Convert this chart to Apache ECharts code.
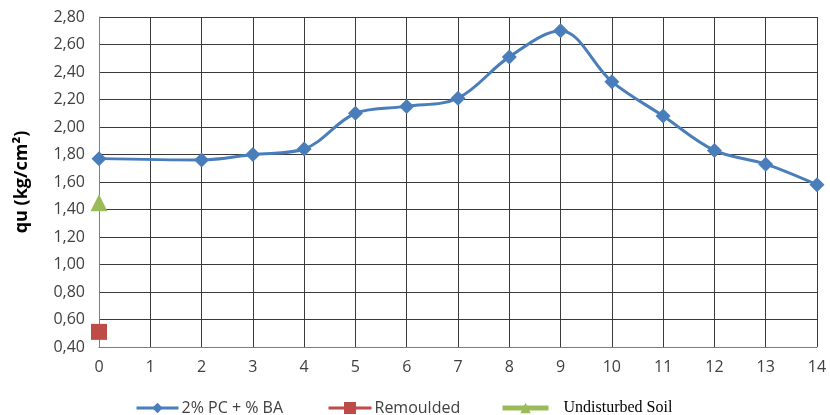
<!DOCTYPE html>
<html>
<head>
<meta charset="utf-8">
<script src="https://cdn.jsdelivr.net/npm/echarts@6/dist/echarts.min.js"></script>
<style>
  html, body { margin: 0; padding: 0; background: #fff; }
  #chart { width: 830px; height: 415px; }
</style>
</head>
<body>
<div id="chart"></div>
<script>
// Unconfined compressive strength vs. additive percentage
const xValues = [0, 2, 3, 4, 5, 6, 7, 8, 9, 10, 11, 12, 13, 14];
const quMixed = [1.77, 1.76, 1.80, 1.84, 2.10, 2.15, 2.21, 2.51, 2.70, 2.33, 2.08, 1.83, 1.73, 1.58];
const quRemoulded = [[0, 0.51]];
const quUndisturbed = [[0, 1.45]];
const seriesNames = ['2% PC + % BA', 'Remoulded', 'Undisturbed Soil'];

const chart = echarts.init(document.getElementById('chart'), null, { renderer: 'canvas' });
const sans = '"Open Sans", Lato, sans-serif';
const gridLine = { show: true, lineStyle: { color: '#3a3a3a', width: 1 } };

chart.setOption({
  backgroundColor: '#ffffff',
  animation: false,
  grid: { left: 99, right: 13, top: 17, bottom: 68 },
  xAxis: {
    type: 'value', min: 0, max: 14, interval: 1,
    axisLine: { show: true, lineStyle: { color: '#7f7f7f', width: 1 } },
    axisTick: { show: false },
    splitLine: gridLine,
    axisLabel: { color: '#404040', fontFamily: sans, fontSize: 16, margin: 12 }
  },
  yAxis: {
    type: 'value', min: 0.4, max: 2.8, interval: 0.2,
    name: 'qu (kg/cm²)', nameLocation: 'middle', nameGap: 68,
    nameTextStyle: { color: '#000', fontFamily: sans, fontSize: 18, fontWeight: 'bold' },
    axisLine: { show: true, lineStyle: { color: '#7f7f7f', width: 1 } },
    axisTick: { show: false },
    splitLine: gridLine,
    axisLabel: {
      color: '#404040', fontFamily: sans, fontSize: 16, margin: 14,
      formatter: v => v.toFixed(2).replace('.', ',')
    }
  },
  legend: [
    { left: 130, top: 395, itemWidth: 42, itemHeight: 13, itemGap: 0,
      lineStyle: { width: 3 },
      data: [seriesNames[0]], textStyle: { color: '#404040', fontFamily: sans, fontSize: 16, padding: [0, 0, 0, -2] } },
    { left: 322, top: 395, itemWidth: 43, itemHeight: 15, itemGap: 0,
      lineStyle: { width: 3 },
      data: [seriesNames[1]], textStyle: { color: '#404040', fontFamily: sans, fontSize: 16, padding: [0, 0, 0, -2] } },
    { left: 495, top: 395, itemWidth: 46, itemHeight: 13, itemGap: 0,
      lineStyle: { width: 5 },
      data: [seriesNames[2]], textStyle: { color: '#000', fontFamily: '"Liberation Serif", "DejaVu Serif", serif', fontSize: 16, padding: [0, 0, 0, 10] } }
  ],
  series: [
    {
      name: seriesNames[0], type: 'line', smooth: 0.35,
      data: xValues.map((x, i) => [x, quMixed[i]]),
      symbol: 'diamond', symbolSize: 15,
      lineStyle: { color: '#4A7EBB', width: 3 },
      itemStyle: { color: '#4A7EBB' }
    },
    {
      name: seriesNames[1], type: 'line', data: quRemoulded,
      symbol: 'rect', symbolSize: 16,
      lineStyle: { color: '#BE4B48', width: 3 },
      itemStyle: { color: '#BE4B48' }
    },
    {
      name: seriesNames[2], type: 'line', data: quUndisturbed,
      symbol: 'triangle', symbolSize: 17,
      lineStyle: { color: '#9BBB59', width: 5 },
      itemStyle: { color: '#9BBB59' }
    }
  ]
});
</script>
</body>
</html>
